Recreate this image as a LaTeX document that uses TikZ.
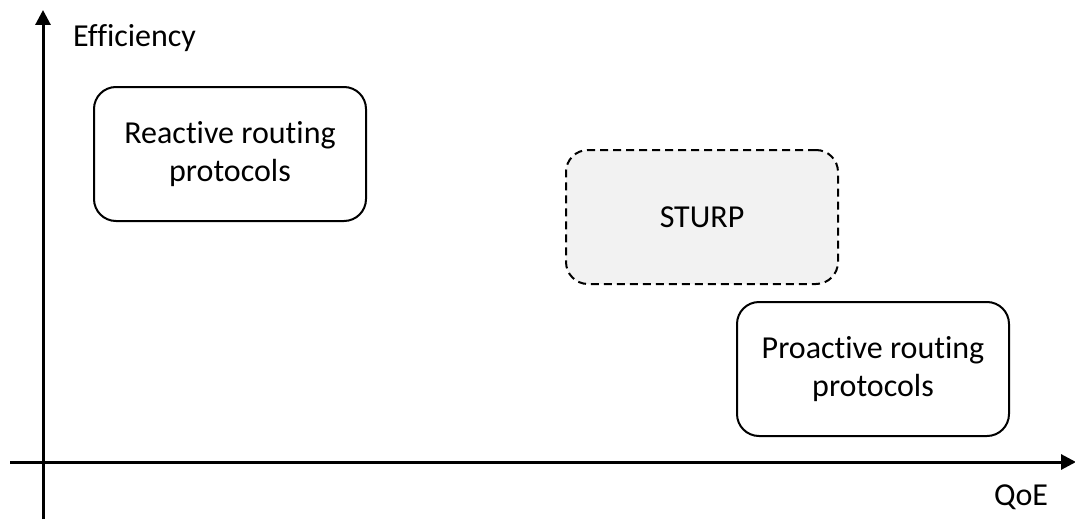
\documentclass[tikz,border=0pt]{standalone}
\usepackage{fontspec}
\setmainfont[Ligatures=CommonOff]{Carlito}
\usetikzlibrary{arrows.meta}
\definecolor{boxfill}{HTML}{F2F2F2}
\begin{document}
\begin{tikzpicture}[x=1pt,y=-1pt,
  axis/.style={line width=3pt,-{Triangle[length=15pt,width=15pt]}},
  protobox/.style={draw,line width=2pt,rounded corners=22pt,minimum width=272pt,minimum height=134pt,
    align=center,font=\fontsize{32}{38}\selectfont,inner sep=0pt},
  axislabel/.style={font=\fontsize{32}{38}\selectfont,inner sep=0pt}]
\useasboundingbox (0,0) rectangle (1075,519);
% axes
\coordinate (yb) at (43,519);
\coordinate (yt) at (43,10);
\coordinate (xl) at (10,462);
\coordinate (xr) at (1076,462);
\draw[axis] (yb) -- (yt);
\draw[axis] (xl) -- (xr);
\node[axislabel,anchor=west] (eff) at (73,38) {Efficiency};
\node[axislabel] (qoe) at (1021,497) {QoE};
% protocol families
\node[protobox] (reactive) at (230,154) {Reactive routing\\protocols};
\node[protobox,dash pattern=on 8pt off 5pt,fill=boxfill] (sturp) at (702,217) {STURP};
\node[protobox] (proactive) at (873,369) {Proactive routing\\protocols};
\end{tikzpicture}
\end{document}
